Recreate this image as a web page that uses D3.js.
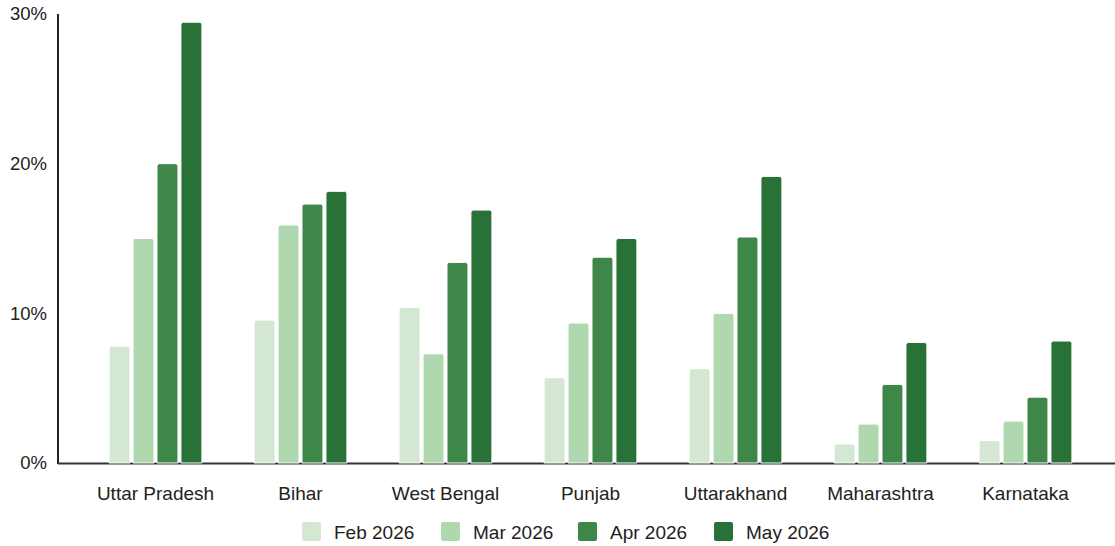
<!DOCTYPE html>
<html>
<head>
<meta charset="utf-8">
<script src="https://cdn.jsdelivr.net/npm/d3@7"></script>
<style>
  body { margin: 0; background: #fff; }
  svg { display: block; font-family: "Liberation Sans", Arial, sans-serif; }
</style>
</head>
<body>
<svg width="1115" height="546"></svg>
<script>
// data (percent)
var states = ["Uttar Pradesh", "Bihar", "West Bengal", "Punjab", "Uttarakhand", "Maharashtra", "Karnataka"];
var months = ["Feb 2026", "Mar 2026", "Apr 2026", "May 2026"];
var feb = [7.8, 9.55, 10.4, 5.7, 6.3, 1.27, 1.5];
var mar = [15.0, 15.9, 7.3, 9.35, 10.0, 2.6, 2.8];
var apr = [20.0, 17.3, 13.4, 13.75, 15.1, 5.25, 4.4];
var may = [29.45, 18.15, 16.9, 15.0, 19.15, 8.05, 8.15];
var yTicks = [0, 10, 20, 30];
var colors = ["#d4e7d3", "#afd8ae", "#3e8748", "#287137"];

var series = [feb, mar, apr, may];

var svg = d3.select("svg");
var x0 = 58, yBottom = 463, yTop = 14;

var x = d3.scaleBand().domain(states).range([83, 1098]).paddingInner(0.36).paddingOuter(0.18);
var xm = d3.scaleBand().domain(months).range([0, x.bandwidth()]).paddingInner(0.125);
var y = d3.scaleLinear().domain([0, 30]).range([yBottom, yTop]);

// y tick labels
svg.selectAll(".ytick").data(yTicks).enter().append("text")
  .attr("x", 47).attr("y", function (d) { return y(d); })
  .attr("dy", "0.35em").attr("text-anchor", "end")
  .attr("font-size", 18.5).attr("fill", "#222")
  .text(function (d) { return d + "%"; });

// axes lines
svg.append("line").attr("x1", x0).attr("x2", x0).attr("y1", yTop).attr("y2", yBottom + 1)
  .attr("stroke", "#222").attr("stroke-width", 2);
svg.append("line").attr("x1", x0).attr("x2", 1115).attr("y1", yBottom + 0.5).attr("y2", yBottom + 0.5)
  .attr("stroke", "#333").attr("stroke-width", 2);

// bars with rounded tops
var r = 2.5;
var barPath = function (bx, by, bw, bh) {
  return "M" + bx + "," + (by + bh) +
    "V" + (by + r) + "Q" + bx + "," + by + " " + (bx + r) + "," + by +
    "H" + (bx + bw - r) + "Q" + (bx + bw) + "," + by + " " + (bx + bw) + "," + (by + r) +
    "V" + (by + bh) + "Z";
};

var groups = svg.selectAll(".grp").data(states).enter().append("g")
  .attr("transform", function (d) { return "translate(" + x(d) + ",0)"; });

groups.selectAll("path").data(function (d, i) {
    return months.map(function (m, j) { return {m: m, v: series[j][i], c: colors[j]}; });
  })
  .enter().append("path")
  .attr("d", function (d) {
    return barPath(xm(d.m), y(d.v), xm.bandwidth(), yBottom - y(d.v));
  })
  .attr("fill", function (d) { return d.c; })
  .attr("stroke", "#fff").attr("stroke-width", 1);

// x labels
svg.selectAll(".xl").data(states).enter().append("text")
  .attr("x", function (d) { return x(d) + x.bandwidth() / 2; })
  .attr("y", 500).attr("text-anchor", "middle")
  .attr("font-size", 19).attr("fill", "#222")
  .text(function (d) { return d; });

// legend
var legX = [302, 441, 578, 714];
var leg = svg.selectAll(".leg").data(months).enter().append("g")
  .attr("transform", function (d, i) { return "translate(" + legX[i] + ",522)"; });
leg.append("rect").attr("width", 19).attr("height", 19).attr("rx", 2)
  .attr("fill", function (d, i) { return colors[i]; });
leg.append("text").attr("x", 32).attr("y", 10).attr("dy", "0.35em")
  .attr("font-size", 19).attr("fill", "#222")
  .text(function (d) { return d; });
</script>
</body>
</html>
